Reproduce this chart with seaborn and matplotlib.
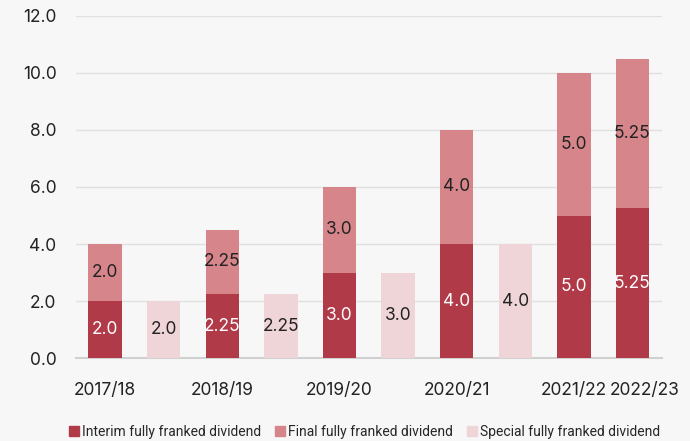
import numpy as np
import pandas as pd
import matplotlib
matplotlib.use("Agg")
import matplotlib.pyplot as plt
from matplotlib.patches import Patch
from matplotlib.transforms import ScaledTranslation
import seaborn as sns

# data (cents per share)
years = ["2017/18", "2018/19", "2019/20", "2020/21", "2021/22", "2022/23"]
interim = [2.0, 2.25, 3.0, 4.0, 5.0, 5.25]
final = [2.0, 2.25, 3.0, 4.0, 5.0, 5.25]
special = [2.0, 2.25, 3.0, 4.0, None, None]

c_interim = "#b03a48"
c_final = "#d6868b"
c_special = "#f0d5d8"
bg = "#f7f7f7"

# build slots: each year, then its special bar (if any)
slots, s_int, s_fin, s_spec, tick_lab = [], [], [], [], []
for y, i, f, s in zip(years, interim, final, special):
    slots.append(y)
    s_int.append(i); s_fin.append(f); s_spec.append(np.nan)
    tick_lab.append(y)
    if s is not None:
        slots.append(y + " special")
        s_int.append(np.nan); s_fin.append(np.nan); s_spec.append(s)
        tick_lab.append("")

df = pd.DataFrame({"slot": slots, "interim": s_int, "final": s_fin, "special": s_spec})
df["total"] = df["interim"] + df["final"]

sns.set_style("white")
plt.rcParams["font.family"] = ["Inter", "DejaVu Sans"]

fig = plt.figure(figsize=(6.9, 4.41), dpi=100, facecolor=bg)
ax = fig.add_axes([0.110, 0.188, 0.849, 0.776])
ax.set_facecolor(bg)

w = 0.57
bar_kw = dict(width=w, ax=ax, saturation=1, order=slots, linewidth=0, zorder=3)
sns.barplot(data=df, x="slot", y="total", color=c_final, **bar_kw)
sns.barplot(data=df, x="slot", y="interim", color=c_interim, **bar_kw)
sns.barplot(data=df, x="slot", y="special", color=c_special, **bar_kw)


def fmt(v):
    if np.isnan(v):
        return ""
    return f"{v:.2f}" if round(v * 100) % 10 else f"{v:.1f}"


lab_kw = dict(ha="center", va="center", fontsize=12.5, zorder=5)
for k, row in df.iterrows():
    if not np.isnan(row["interim"]):
        ax.text(k, row["interim"] / 2, fmt(row["interim"]), color="white", **lab_kw)
        ax.text(k, row["interim"] + row["final"] / 2, fmt(row["final"]), color="#222222", **lab_kw)
    if not np.isnan(row["special"]):
        ax.text(k, row["special"] / 2, fmt(row["special"]), color="#222222", **lab_kw)

ax.set_ylim(0, 12)
ax.set_xlim(-0.5, len(slots) - 0.5)
ax.set_yticks(np.arange(0, 12.1, 2))
ax.set_yticklabels([f"{v:.1f}" for v in np.arange(0, 12.1, 2)], fontsize=12.5,
                   color="#222222")
ax.set_xticks(range(len(slots)))
ax.set_xticklabels(tick_lab, fontsize=12.5, color="#222222")
ax.set_xticks(np.arange(-0.5, len(slots), 1), minor=True)
ax.tick_params(axis="x", which="major", length=0, pad=17)
ax.tick_params(axis="x", which="minor", length=5, width=1.2, color="#d0d0d0")
ax.tick_params(axis="y", length=0, pad=14)
ax.set_xlabel("")
ax.set_ylabel("")
ax.yaxis.grid(True, color="#e0e0e0", linewidth=1, zorder=0)
ax.set_axisbelow(True)
for sp in ["left", "right", "top"]:
    ax.spines[sp].set_visible(False)
ax.spines["bottom"].set_color("#d0d0d0")
ax.spines["bottom"].set_linewidth(1.5)

# nudge last year label right so it clears its neighbour
last = ax.get_xticklabels()[-1]
last.set_transform(last.get_transform() + ScaledTranslation(0.12, 0, fig.dpi_scale_trans))

handles = [Patch(color=c_interim, label="Interim fully franked dividend"),
           Patch(color=c_final, label="Final fully franked dividend"),
           Patch(color=c_special, label="Special fully franked dividend")]
fig.legend(handles=handles, loc="center left", bbox_to_anchor=(0.100, 0.021), ncol=3,
           frameon=False, handlelength=0.7, handleheight=0.7,
           handletextpad=0.25, columnspacing=1.0, borderaxespad=0, borderpad=0,
           prop={"family": ["Liberation Sans Narrow", "Roboto"], "size": 10})

fig.savefig("out.png", dpi=100, facecolor=bg)
